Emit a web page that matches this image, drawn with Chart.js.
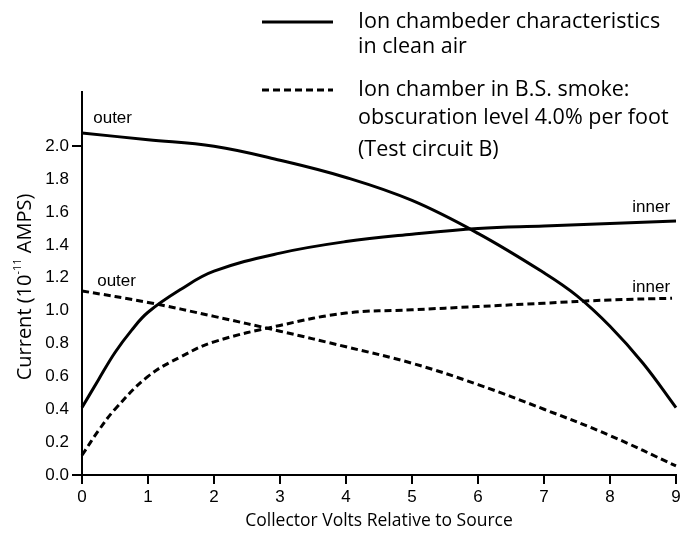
<!DOCTYPE html>
<html>
<head>
<meta charset="utf-8">
<script src="https://cdn.jsdelivr.net/npm/chart.js@4.4.1/dist/chart.umd.min.js"></script>
<style>
  html, body { margin: 0; padding: 0; background: #fff; }
  canvas { display: block; }
</style>
</head>
<body>
<canvas id="ionChart" width="685" height="537"></canvas>
<script>
// Ion chamber current vs collector volts (clean air / B.S. smoke)

const xTicks = [0, 1, 2, 3, 4, 5, 6, 7, 8, 9];
const yTicks = [0, 0.2, 0.4, 0.6, 0.8, 1.0, 1.2, 1.4, 1.6, 1.8, 2.0];

// clean air, outer electrode (solid, falling)
const cleanOuterX = [0, 1, 2, 3, 4, 5, 6, 7, 7.5, 8, 8.5, 9];
const cleanOuterY = [2.08, 2.04, 2.00, 1.915, 1.81, 1.67, 1.47, 1.23, 1.09, 0.905, 0.68, 0.41];

// clean air, inner electrode (solid, rising)
const cleanInnerX = [0, 0.25, 0.5, 0.75, 1, 1.5, 2, 3, 4, 5, 6, 7, 8, 9];
const cleanInnerY = [0.41, 0.58, 0.745, 0.88, 0.99, 1.13, 1.24, 1.35, 1.42, 1.465, 1.50, 1.515, 1.53, 1.545];

// smoke, outer electrode (dashed, falling)
const smokeOuterX = [0, 1, 2, 3, 4, 5, 6, 7, 8, 9];
const smokeOuterY = [1.12, 1.05, 0.965, 0.875, 0.78, 0.68, 0.55, 0.40, 0.24, 0.055];

// smoke, inner electrode (dashed, rising)
const smokeInnerX = [0, 0.25, 0.5, 1, 1.5, 2, 3, 4, 5, 6, 7, 8, 8.94];
const smokeInnerY = [0.12, 0.27, 0.40, 0.60, 0.72, 0.81, 0.91, 0.985, 1.005, 1.025, 1.045, 1.065, 1.075];

const curveLabels = [
    { text: 'outer', x: 0.17, y: 2.17, align: 'left' },
    { text: 'outer', x: 0.23, y: 1.18, align: 'left' },
    { text: 'inner', x: 8.91, y: 1.63, align: 'right' },
    { text: 'inner', x: 8.91, y: 1.14, align: 'right' }
];

const legendEntries = [
    { dash: [], lines: ['Ion chambeder characteristics', 'in clean air'] },
    { dash: [7, 4], lines: ['Ion chamber in B.S. smoke:', 'obscuration level 4.0% per foot'] }
];
const legendNote = '(Test circuit B)';

const SANS = '"Liberation Sans", Arial, sans-serif';
const HUM = '"Open Sans", "Noto Sans", sans-serif';

const zip = (xs, ys) => xs.map((x, i) => ({ x: x, y: ys[i] }));

function curve(xs, ys, dash) {
    return {
        data: zip(xs, ys),
        borderColor: '#000',
        borderWidth: 3,
        borderDash: dash,
        pointRadius: 0,
        fill: false,
        tension: 0.4,
        clip: false
    };
}

// curve labels, legend block and rotated y title
const overlay = {
    id: 'overlay',
    afterDraw(chart) {
        const ctx = chart.ctx;
        const xs = chart.scales.x, ys = chart.scales.y;
        ctx.save();
        ctx.fillStyle = '#000';

        ctx.font = '17px ' + SANS;
        ctx.textBaseline = 'middle';
        curveLabels.forEach(l => {
            ctx.textAlign = l.align;
            ctx.fillText(l.text, xs.getPixelForValue(l.x), ys.getPixelForValue(l.y));
        });

        // legend
        const rows = [[22, 47], [90, 118]];
        ctx.font = '21.5px ' + HUM;
        ctx.textAlign = 'left';
        legendEntries.forEach((e, i) => {
            ctx.strokeStyle = '#000';
            ctx.lineWidth = 3;
            ctx.setLineDash(e.dash);
            ctx.beginPath();
            ctx.moveTo(262, rows[i][0]);
            ctx.lineTo(333, rows[i][0]);
            ctx.stroke();
            e.lines.forEach((t, j) => ctx.fillText(t, 358, rows[i][j]));
        });
        ctx.setLineDash([]);
        ctx.fillText(legendNote, 358, 150);

        // y title with superscript
        ctx.translate(25, 287);
        ctx.rotate(-Math.PI / 2);
        const a = 'Current (10', s = '-11', b = ' AMPS)';
        const big = '20px ' + HUM, small = '11px ' + HUM;
        ctx.font = big;
        const wa = ctx.measureText(a).width, wb = ctx.measureText(b).width;
        ctx.font = small;
        const ws = ctx.measureText(s).width;
        const x0 = -(wa + ws + wb) / 2;
        ctx.font = big;
        ctx.fillText(a, x0, 0);
        ctx.font = small;
        ctx.fillText(s, x0 + wa, -7);
        ctx.font = big;
        ctx.fillText(b, x0 + wa + ws, 0);
        ctx.restore();
    }
};

new Chart(document.getElementById('ionChart'), {
    type: 'line',
    data: {
        datasets: [
            curve(cleanOuterX, cleanOuterY, []),
            curve(cleanInnerX, cleanInnerY, []),
            curve(smokeOuterX, smokeOuterY, [7, 4]),
            curve(smokeInnerX, smokeInnerY, [7, 4])
        ]
    },
    options: {
        responsive: false,
        devicePixelRatio: 1,
        animation: false,
        layout: { padding: { top: 92, right: 9, left: 0, bottom: 0 } },
        plugins: { legend: { display: false }, tooltip: { enabled: false } },
        scales: {
            x: {
                type: 'linear',
                min: 0,
                max: 9,
                afterBuildTicks: s => { s.ticks = xTicks.map(v => ({ value: v })); },
                afterFit: s => { s.height = 62; },
                border: { display: true, color: '#000', width: 2 },
                grid: { drawOnChartArea: false, drawTicks: true, tickLength: 9, color: '#000', lineWidth: 2 },
                ticks: { color: '#000', font: { family: SANS, size: 17 }, padding: 3, maxRotation: 0 },
                title: {
                    display: true,
                    text: 'Collector Volts Relative to Source',
                    color: '#000',
                    font: { family: HUM, size: 17.5 },
                    padding: { top: 0, bottom: 5 }
                }
            },
            y: {
                min: 0,
                max: 2.33,
                afterBuildTicks: s => { s.ticks = yTicks.map(v => ({ value: v })); },
                afterFit: s => { s.width = 82; },
                border: { display: true, color: '#000', width: 2 },
                grid: {
                    drawOnChartArea: false,
                    drawTicks: true,
                    tickLength: 10,
                    lineWidth: 2,
                    color: '#000',
                    tickColor: c => (c.tick && (c.tick.value === 0 || c.tick.value === 2)) ? '#000' : 'rgba(0,0,0,0)'
                },
                ticks: {
                    color: '#000',
                    font: { family: SANS, size: 17 },
                    padding: 3,
                    callback: v => v.toFixed(1)
                }
            }
        }
    },
    plugins: [overlay]
});
</script>
</body>
</html>
